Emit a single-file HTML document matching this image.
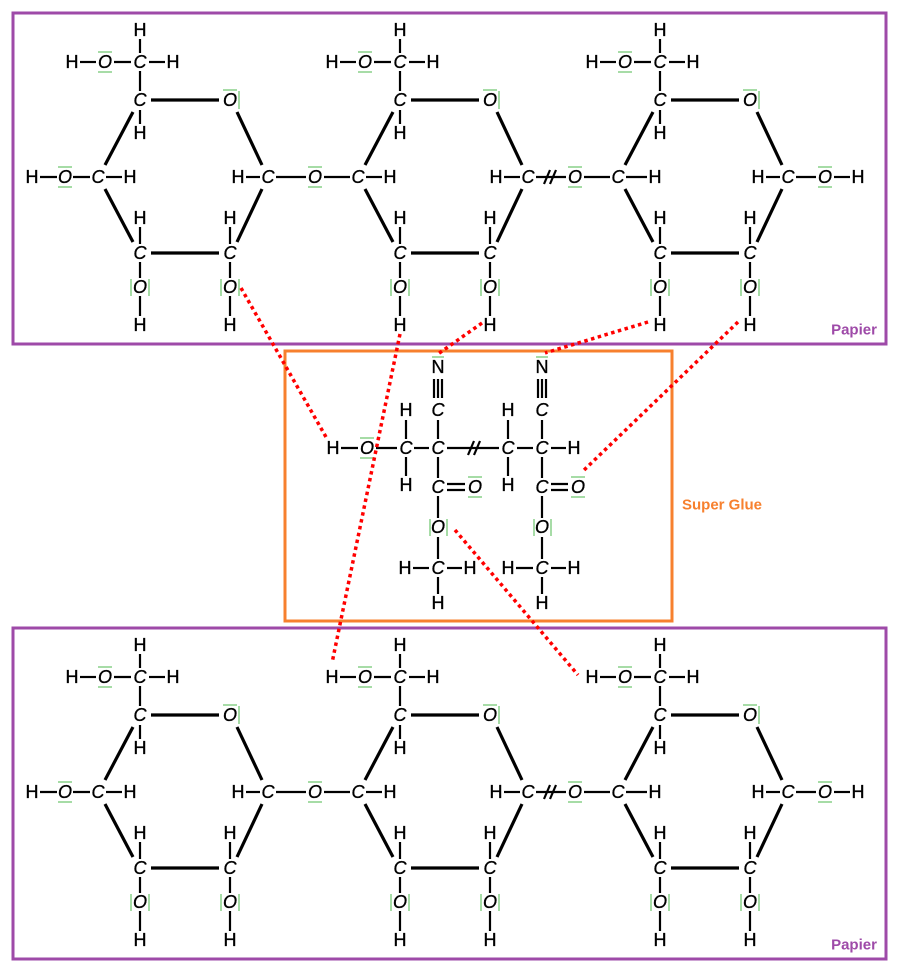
<!DOCTYPE html>
<html><head><meta charset="utf-8"><style>
html,body{margin:0;padding:0;background:#fff;}
svg{display:block;}
text{font-family:"Liberation Sans",sans-serif;font-size:18px;fill:#000;stroke:#000;stroke-width:0.35;text-anchor:middle;dominant-baseline:central;}
.i{font-style:italic;}
.b line{stroke:#000;stroke-width:2.2;}
.r{stroke:#000;stroke-width:3.2;}
.g{stroke:#6cc46c;stroke-width:1.2;}
.d{stroke:#f00;stroke-width:3.5;stroke-dasharray:3.5,3.5;fill:none;}
</style></head><body>
<svg width="898" height="970" viewBox="0 0 898 970" xmlns="http://www.w3.org/2000/svg">
<rect x="13" y="13" width="873" height="331" fill="none" stroke="#9e4aa8" stroke-width="3"/>
<rect x="13" y="628" width="873" height="331" fill="none" stroke="#9e4aa8" stroke-width="3"/>
<rect x="285" y="351" width="387" height="270" fill="none" stroke="#f7802e" stroke-width="3"/>
<text x="854" y="330" style="fill:#9e4aa8;stroke:none;font-size:15px;font-weight:bold">Papier</text>
<text x="854" y="945" style="fill:#9e4aa8;stroke:none;font-size:15px;font-weight:bold">Papier</text>
<text x="722" y="505" style="fill:#f7802e;stroke:none;font-size:15px;font-weight:bold">Super Glue</text>

<!-- ===== TOP PAPER ===== -->
<g id="top">
<g>
<g class="b"><line x1="140" y1="39" x2="140" y2="53"/><line x1="80" y1="62" x2="96" y2="62"/><line x1="114" y1="62" x2="131" y2="62"/><line x1="149" y1="62" x2="165" y2="62"/><line x1="140" y1="71" x2="140" y2="91"/><line x1="140" y1="110" x2="140" y2="124"/>
<line x1="140" y1="227" x2="140" y2="244"/><line x1="140" y1="262" x2="140" y2="278"/><line x1="140" y1="296" x2="140" y2="316"/><line x1="230" y1="227" x2="230" y2="244"/><line x1="230" y1="262" x2="230" y2="278"/><line x1="230" y1="296" x2="230" y2="316"/></g>
<line class="r" x1="151" y1="100" x2="219" y2="100"/><line class="r" x1="133" y1="112" x2="105" y2="165"/><line class="r" x1="105" y1="189" x2="133" y2="242"/><line class="r" x1="151" y1="253" x2="219" y2="253"/><line class="r" x1="237" y1="242" x2="262" y2="189"/><line class="r" x1="262" y1="165" x2="237" y2="112"/>
<text x="140" y="30">H</text><text x="72" y="62">H</text><text class="i" x="105" y="62">O</text><text class="i" x="140" y="62">C</text><text x="173" y="62">H</text>
<text class="i" x="140" y="100">C</text><text class="i" x="230" y="100">O</text><text x="140" y="133">H</text>
<text class="i" x="98" y="177">C</text><text class="i" x="268" y="177">C</text>
<text x="140" y="218">H</text><text x="230" y="218">H</text><text class="i" x="140" y="253">C</text><text class="i" x="230" y="253">C</text>
<text class="i" x="140" y="287">O</text><text class="i" x="230" y="287">O</text><text x="140" y="325">H</text><text x="230" y="325">H</text>
<g class="g"><line x1="98" y1="52" x2="112" y2="52"/><line x1="98" y1="72" x2="112" y2="72"/><line x1="223" y1="90" x2="237" y2="90"/><line x1="239" y1="91" x2="239" y2="109"/><line x1="131" y1="279" x2="131" y2="296"/><line x1="149" y1="279" x2="149" y2="296"/><line x1="221" y1="279" x2="221" y2="296"/><line x1="239" y1="279" x2="239" y2="296"/></g>
<g class="b"><line x1="40" y1="177" x2="57" y2="177"/><line x1="73" y1="177" x2="90" y2="177"/><line x1="106" y1="177" x2="122" y2="177"/><line x1="246" y1="177" x2="260" y2="177"/><line x1="276" y1="177" x2="306" y2="177"/><line x1="324" y1="177" x2="350" y2="177"/></g>
<text x="32" y="177">H</text><text class="i" x="65" y="177">O</text><text x="130" y="177">H</text><text x="238" y="177">H</text><text class="i" x="315" y="177">O</text>
<g class="g"><line x1="58" y1="167" x2="72" y2="167"/><line x1="58" y1="187" x2="72" y2="187"/><line x1="308" y1="167" x2="322" y2="167"/><line x1="308" y1="187" x2="322" y2="187"/></g>
</g>
<g transform="translate(260,0)">
<g class="b"><line x1="140" y1="39" x2="140" y2="53"/><line x1="80" y1="62" x2="96" y2="62"/><line x1="114" y1="62" x2="131" y2="62"/><line x1="149" y1="62" x2="165" y2="62"/><line x1="140" y1="71" x2="140" y2="91"/><line x1="140" y1="110" x2="140" y2="124"/>
<line x1="140" y1="227" x2="140" y2="244"/><line x1="140" y1="262" x2="140" y2="278"/><line x1="140" y1="296" x2="140" y2="316"/><line x1="230" y1="227" x2="230" y2="244"/><line x1="230" y1="262" x2="230" y2="278"/><line x1="230" y1="296" x2="230" y2="316"/></g>
<line class="r" x1="151" y1="100" x2="219" y2="100"/><line class="r" x1="133" y1="112" x2="105" y2="165"/><line class="r" x1="105" y1="189" x2="133" y2="242"/><line class="r" x1="151" y1="253" x2="219" y2="253"/><line class="r" x1="237" y1="242" x2="262" y2="189"/><line class="r" x1="262" y1="165" x2="237" y2="112"/>
<text x="140" y="30">H</text><text x="72" y="62">H</text><text class="i" x="105" y="62">O</text><text class="i" x="140" y="62">C</text><text x="173" y="62">H</text>
<text class="i" x="140" y="100">C</text><text class="i" x="230" y="100">O</text><text x="140" y="133">H</text>
<text class="i" x="98" y="177">C</text><text class="i" x="268" y="177">C</text>
<text x="140" y="218">H</text><text x="230" y="218">H</text><text class="i" x="140" y="253">C</text><text class="i" x="230" y="253">C</text>
<text class="i" x="140" y="287">O</text><text class="i" x="230" y="287">O</text><text x="140" y="325">H</text><text x="230" y="325">H</text>
<g class="g"><line x1="98" y1="52" x2="112" y2="52"/><line x1="98" y1="72" x2="112" y2="72"/><line x1="223" y1="90" x2="237" y2="90"/><line x1="239" y1="91" x2="239" y2="109"/><line x1="131" y1="279" x2="131" y2="296"/><line x1="149" y1="279" x2="149" y2="296"/><line x1="221" y1="279" x2="221" y2="296"/><line x1="239" y1="279" x2="239" y2="296"/></g>
<g class="b"><line x1="106" y1="177" x2="122" y2="177"/><line x1="244" y1="177" x2="260" y2="177"/><line x1="276" y1="177" x2="306" y2="177"/><line x1="324" y1="177" x2="350" y2="177"/><line x1="284" y1="184" x2="290" y2="170"/><line x1="290" y1="184" x2="296" y2="170"/></g>
<text x="130" y="177">H</text><text x="236" y="177">H</text><text class="i" x="315" y="177">O</text>
<g class="g"><line x1="308" y1="167" x2="322" y2="167"/><line x1="308" y1="187" x2="322" y2="187"/></g>
</g>
<g transform="translate(520,0)">
<g class="b"><line x1="140" y1="39" x2="140" y2="53"/><line x1="80" y1="62" x2="96" y2="62"/><line x1="114" y1="62" x2="131" y2="62"/><line x1="149" y1="62" x2="165" y2="62"/><line x1="140" y1="71" x2="140" y2="91"/><line x1="140" y1="110" x2="140" y2="124"/>
<line x1="140" y1="227" x2="140" y2="244"/><line x1="140" y1="262" x2="140" y2="278"/><line x1="140" y1="296" x2="140" y2="316"/><line x1="230" y1="227" x2="230" y2="244"/><line x1="230" y1="262" x2="230" y2="278"/><line x1="230" y1="296" x2="230" y2="316"/></g>
<line class="r" x1="151" y1="100" x2="219" y2="100"/><line class="r" x1="133" y1="112" x2="105" y2="165"/><line class="r" x1="105" y1="189" x2="133" y2="242"/><line class="r" x1="151" y1="253" x2="219" y2="253"/><line class="r" x1="237" y1="242" x2="262" y2="189"/><line class="r" x1="262" y1="165" x2="237" y2="112"/>
<text x="140" y="30">H</text><text x="72" y="62">H</text><text class="i" x="105" y="62">O</text><text class="i" x="140" y="62">C</text><text x="173" y="62">H</text>
<text class="i" x="140" y="100">C</text><text class="i" x="230" y="100">O</text><text x="140" y="133">H</text>
<text class="i" x="98" y="177">C</text><text class="i" x="268" y="177">C</text>
<text x="140" y="218">H</text><text x="230" y="218">H</text><text class="i" x="140" y="253">C</text><text class="i" x="230" y="253">C</text>
<text class="i" x="140" y="287">O</text><text class="i" x="230" y="287">O</text><text x="140" y="325">H</text><text x="230" y="325">H</text>
<g class="g"><line x1="98" y1="52" x2="112" y2="52"/><line x1="98" y1="72" x2="112" y2="72"/><line x1="223" y1="90" x2="237" y2="90"/><line x1="239" y1="91" x2="239" y2="109"/><line x1="131" y1="279" x2="131" y2="296"/><line x1="149" y1="279" x2="149" y2="296"/><line x1="221" y1="279" x2="221" y2="296"/><line x1="239" y1="279" x2="239" y2="296"/></g>
<g class="b"><line x1="106" y1="177" x2="127" y2="177"/><line x1="246" y1="177" x2="260" y2="177"/><line x1="276" y1="177" x2="296" y2="177"/><line x1="314" y1="177" x2="330" y2="177"/></g>
<text x="135" y="177">H</text><text x="238" y="177">H</text><text class="i" x="305" y="177">O</text><text x="338" y="177">H</text>
<g class="g"><line x1="298" y1="167" x2="312" y2="167"/><line x1="298" y1="187" x2="312" y2="187"/></g>
</g>
</g>

<!-- ===== BOTTOM PAPER ===== -->
<g transform="translate(0,615)">
<g>
<g class="b"><line x1="140" y1="39" x2="140" y2="53"/><line x1="80" y1="62" x2="96" y2="62"/><line x1="114" y1="62" x2="131" y2="62"/><line x1="149" y1="62" x2="165" y2="62"/><line x1="140" y1="71" x2="140" y2="91"/><line x1="140" y1="110" x2="140" y2="124"/>
<line x1="140" y1="227" x2="140" y2="244"/><line x1="140" y1="262" x2="140" y2="278"/><line x1="140" y1="296" x2="140" y2="316"/><line x1="230" y1="227" x2="230" y2="244"/><line x1="230" y1="262" x2="230" y2="278"/><line x1="230" y1="296" x2="230" y2="316"/></g>
<line class="r" x1="151" y1="100" x2="219" y2="100"/><line class="r" x1="133" y1="112" x2="105" y2="165"/><line class="r" x1="105" y1="189" x2="133" y2="242"/><line class="r" x1="151" y1="253" x2="219" y2="253"/><line class="r" x1="237" y1="242" x2="262" y2="189"/><line class="r" x1="262" y1="165" x2="237" y2="112"/>
<text x="140" y="30">H</text><text x="72" y="62">H</text><text class="i" x="105" y="62">O</text><text class="i" x="140" y="62">C</text><text x="173" y="62">H</text>
<text class="i" x="140" y="100">C</text><text class="i" x="230" y="100">O</text><text x="140" y="133">H</text>
<text class="i" x="98" y="177">C</text><text class="i" x="268" y="177">C</text>
<text x="140" y="218">H</text><text x="230" y="218">H</text><text class="i" x="140" y="253">C</text><text class="i" x="230" y="253">C</text>
<text class="i" x="140" y="287">O</text><text class="i" x="230" y="287">O</text><text x="140" y="325">H</text><text x="230" y="325">H</text>
<g class="g"><line x1="98" y1="52" x2="112" y2="52"/><line x1="98" y1="72" x2="112" y2="72"/><line x1="223" y1="90" x2="237" y2="90"/><line x1="239" y1="91" x2="239" y2="109"/><line x1="131" y1="279" x2="131" y2="296"/><line x1="149" y1="279" x2="149" y2="296"/><line x1="221" y1="279" x2="221" y2="296"/><line x1="239" y1="279" x2="239" y2="296"/></g>
<g class="b"><line x1="40" y1="177" x2="57" y2="177"/><line x1="73" y1="177" x2="90" y2="177"/><line x1="106" y1="177" x2="122" y2="177"/><line x1="246" y1="177" x2="260" y2="177"/><line x1="276" y1="177" x2="306" y2="177"/><line x1="324" y1="177" x2="350" y2="177"/></g>
<text x="32" y="177">H</text><text class="i" x="65" y="177">O</text><text x="130" y="177">H</text><text x="238" y="177">H</text><text class="i" x="315" y="177">O</text>
<g class="g"><line x1="58" y1="167" x2="72" y2="167"/><line x1="58" y1="187" x2="72" y2="187"/><line x1="308" y1="167" x2="322" y2="167"/><line x1="308" y1="187" x2="322" y2="187"/></g>
</g>
<g transform="translate(260,0)">
<g class="b"><line x1="140" y1="39" x2="140" y2="53"/><line x1="80" y1="62" x2="96" y2="62"/><line x1="114" y1="62" x2="131" y2="62"/><line x1="149" y1="62" x2="165" y2="62"/><line x1="140" y1="71" x2="140" y2="91"/><line x1="140" y1="110" x2="140" y2="124"/>
<line x1="140" y1="227" x2="140" y2="244"/><line x1="140" y1="262" x2="140" y2="278"/><line x1="140" y1="296" x2="140" y2="316"/><line x1="230" y1="227" x2="230" y2="244"/><line x1="230" y1="262" x2="230" y2="278"/><line x1="230" y1="296" x2="230" y2="316"/></g>
<line class="r" x1="151" y1="100" x2="219" y2="100"/><line class="r" x1="133" y1="112" x2="105" y2="165"/><line class="r" x1="105" y1="189" x2="133" y2="242"/><line class="r" x1="151" y1="253" x2="219" y2="253"/><line class="r" x1="237" y1="242" x2="262" y2="189"/><line class="r" x1="262" y1="165" x2="237" y2="112"/>
<text x="140" y="30">H</text><text x="72" y="62">H</text><text class="i" x="105" y="62">O</text><text class="i" x="140" y="62">C</text><text x="173" y="62">H</text>
<text class="i" x="140" y="100">C</text><text class="i" x="230" y="100">O</text><text x="140" y="133">H</text>
<text class="i" x="98" y="177">C</text><text class="i" x="268" y="177">C</text>
<text x="140" y="218">H</text><text x="230" y="218">H</text><text class="i" x="140" y="253">C</text><text class="i" x="230" y="253">C</text>
<text class="i" x="140" y="287">O</text><text class="i" x="230" y="287">O</text><text x="140" y="325">H</text><text x="230" y="325">H</text>
<g class="g"><line x1="98" y1="52" x2="112" y2="52"/><line x1="98" y1="72" x2="112" y2="72"/><line x1="223" y1="90" x2="237" y2="90"/><line x1="239" y1="91" x2="239" y2="109"/><line x1="131" y1="279" x2="131" y2="296"/><line x1="149" y1="279" x2="149" y2="296"/><line x1="221" y1="279" x2="221" y2="296"/><line x1="239" y1="279" x2="239" y2="296"/></g>
<g class="b"><line x1="106" y1="177" x2="122" y2="177"/><line x1="244" y1="177" x2="260" y2="177"/><line x1="276" y1="177" x2="306" y2="177"/><line x1="324" y1="177" x2="350" y2="177"/><line x1="284" y1="184" x2="290" y2="170"/><line x1="290" y1="184" x2="296" y2="170"/></g>
<text x="130" y="177">H</text><text x="236" y="177">H</text><text class="i" x="315" y="177">O</text>
<g class="g"><line x1="308" y1="167" x2="322" y2="167"/><line x1="308" y1="187" x2="322" y2="187"/></g>
</g>
<g transform="translate(520,0)">
<g class="b"><line x1="140" y1="39" x2="140" y2="53"/><line x1="80" y1="62" x2="96" y2="62"/><line x1="114" y1="62" x2="131" y2="62"/><line x1="149" y1="62" x2="165" y2="62"/><line x1="140" y1="71" x2="140" y2="91"/><line x1="140" y1="110" x2="140" y2="124"/>
<line x1="140" y1="227" x2="140" y2="244"/><line x1="140" y1="262" x2="140" y2="278"/><line x1="140" y1="296" x2="140" y2="316"/><line x1="230" y1="227" x2="230" y2="244"/><line x1="230" y1="262" x2="230" y2="278"/><line x1="230" y1="296" x2="230" y2="316"/></g>
<line class="r" x1="151" y1="100" x2="219" y2="100"/><line class="r" x1="133" y1="112" x2="105" y2="165"/><line class="r" x1="105" y1="189" x2="133" y2="242"/><line class="r" x1="151" y1="253" x2="219" y2="253"/><line class="r" x1="237" y1="242" x2="262" y2="189"/><line class="r" x1="262" y1="165" x2="237" y2="112"/>
<text x="140" y="30">H</text><text x="72" y="62">H</text><text class="i" x="105" y="62">O</text><text class="i" x="140" y="62">C</text><text x="173" y="62">H</text>
<text class="i" x="140" y="100">C</text><text class="i" x="230" y="100">O</text><text x="140" y="133">H</text>
<text class="i" x="98" y="177">C</text><text class="i" x="268" y="177">C</text>
<text x="140" y="218">H</text><text x="230" y="218">H</text><text class="i" x="140" y="253">C</text><text class="i" x="230" y="253">C</text>
<text class="i" x="140" y="287">O</text><text class="i" x="230" y="287">O</text><text x="140" y="325">H</text><text x="230" y="325">H</text>
<g class="g"><line x1="98" y1="52" x2="112" y2="52"/><line x1="98" y1="72" x2="112" y2="72"/><line x1="223" y1="90" x2="237" y2="90"/><line x1="239" y1="91" x2="239" y2="109"/><line x1="131" y1="279" x2="131" y2="296"/><line x1="149" y1="279" x2="149" y2="296"/><line x1="221" y1="279" x2="221" y2="296"/><line x1="239" y1="279" x2="239" y2="296"/></g>
<g class="b"><line x1="106" y1="177" x2="127" y2="177"/><line x1="246" y1="177" x2="260" y2="177"/><line x1="276" y1="177" x2="296" y2="177"/><line x1="314" y1="177" x2="330" y2="177"/></g>
<text x="135" y="177">H</text><text x="238" y="177">H</text><text class="i" x="305" y="177">O</text><text x="338" y="177">H</text>
<g class="g"><line x1="298" y1="167" x2="312" y2="167"/><line x1="298" y1="187" x2="312" y2="187"/></g>
</g>
</g>

<!-- ===== SUPER GLUE ===== -->
<g class="b">
<line x1="341" y1="448" x2="358" y2="448"/><line x1="376" y1="448" x2="397" y2="448"/><line x1="414" y1="448" x2="429" y2="448"/><line x1="447" y1="448" x2="499" y2="448"/><line x1="517" y1="448" x2="533" y2="448"/><line x1="551" y1="448" x2="566" y2="448"/>
<line x1="468" y1="455" x2="474" y2="441"/><line x1="474" y1="455" x2="480" y2="441"/>
<line x1="434" y1="379" x2="434" y2="398"/><line x1="438" y1="379" x2="438" y2="398"/><line x1="442" y1="379" x2="442" y2="398"/>
<line x1="538" y1="379" x2="538" y2="398"/><line x1="542" y1="379" x2="542" y2="398"/><line x1="546" y1="379" x2="546" y2="398"/>
<line x1="438" y1="420" x2="438" y2="439"/><line x1="542" y1="420" x2="542" y2="439"/>
<line x1="406" y1="420" x2="406" y2="439"/><line x1="406" y1="457" x2="406" y2="476"/><line x1="508" y1="420" x2="508" y2="439"/><line x1="508" y1="457" x2="508" y2="476"/>
<line x1="438" y1="457" x2="438" y2="478"/><line x1="542" y1="457" x2="542" y2="478"/>
<line x1="447" y1="484" x2="465" y2="484"/><line x1="447" y1="490" x2="465" y2="490"/><line x1="551" y1="484" x2="568" y2="484"/><line x1="551" y1="490" x2="568" y2="490"/>
<line x1="438" y1="496" x2="438" y2="518"/><line x1="542" y1="496" x2="542" y2="518"/>
<line x1="438" y1="537" x2="438" y2="559"/><line x1="542" y1="537" x2="542" y2="559"/>
<line x1="413" y1="568" x2="429" y2="568"/><line x1="447" y1="568" x2="462" y2="568"/><line x1="516" y1="568" x2="533" y2="568"/><line x1="551" y1="568" x2="566" y2="568"/>
<line x1="438" y1="577" x2="438" y2="594"/><line x1="542" y1="577" x2="542" y2="594"/>
</g>
<text x="438" y="367">N</text><text x="542" y="367">N</text>
<text class="i" x="438" y="410">C</text><text class="i" x="542" y="410">C</text>
<text x="406" y="410">H</text><text x="508" y="410">H</text>
<text x="333" y="448">H</text><text class="i" x="367" y="448">O</text><text class="i" x="406" y="448">C</text><text class="i" x="438" y="448">C</text><text class="i" x="508" y="448">C</text><text class="i" x="542" y="448">C</text><text x="574" y="448">H</text>
<text x="406" y="485">H</text><text x="508" y="485">H</text>
<text class="i" x="438" y="487">C</text><text class="i" x="475" y="487">O</text><text class="i" x="542" y="487">C</text><text class="i" x="578" y="487">O</text>
<text class="i" x="438" y="527">O</text><text class="i" x="542" y="527">O</text>
<text x="405" y="568">H</text><text class="i" x="438" y="568">C</text><text x="470" y="568">H</text><text x="508" y="568">H</text><text class="i" x="542" y="568">C</text><text x="574" y="568">H</text>
<text x="438" y="603">H</text><text x="542" y="603">H</text>
<g class="g"><line x1="432" y1="357" x2="444" y2="357"/><line x1="536" y1="357" x2="548" y2="357"/>
<line x1="360" y1="438" x2="374" y2="438"/><line x1="360" y1="458" x2="374" y2="458"/>
<line x1="468" y1="477" x2="482" y2="477"/><line x1="468" y1="497" x2="482" y2="497"/><line x1="571" y1="477" x2="585" y2="477"/><line x1="571" y1="497" x2="585" y2="497"/>
<line x1="430" y1="519" x2="430" y2="536"/><line x1="447" y1="519" x2="447" y2="536"/><line x1="534" y1="519" x2="534" y2="536"/><line x1="551" y1="519" x2="551" y2="536"/></g>

<!-- hydrogen bonds -->
<line class="d" x1="241" y1="288" x2="326" y2="437"/>
<line class="d" x1="400" y1="334" x2="332" y2="663"/>
<line class="d" x1="482" y1="323" x2="438" y2="354"/>
<line class="d" x1="648" y1="322" x2="545" y2="353"/>
<line class="d" x1="738" y1="322" x2="582" y2="472"/>
<line class="d" x1="455" y1="530" x2="578" y2="675"/>
</svg>
</body></html>
